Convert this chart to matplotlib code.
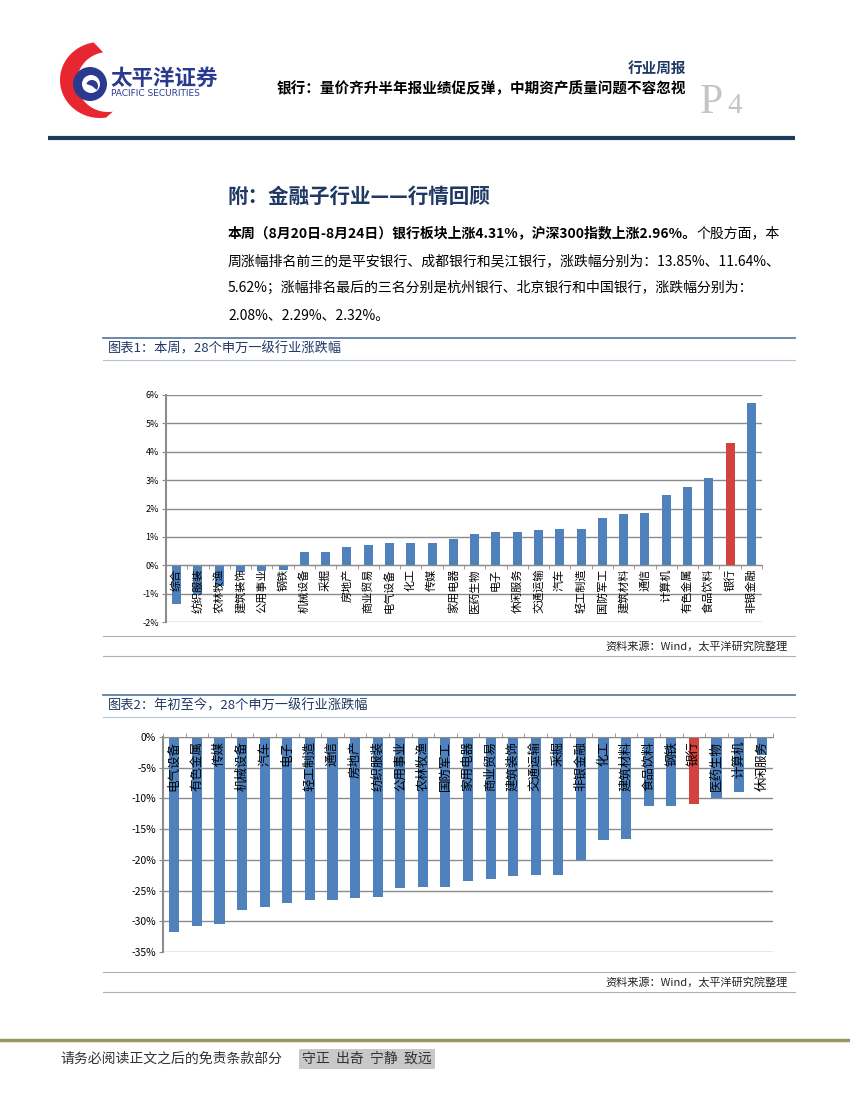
import numpy as np
import matplotlib
matplotlib.use("Agg")
import matplotlib.pyplot as plt
from matplotlib import patches

plt.rcParams['font.family'] = ['Noto Sans CJK SC', 'DejaVu Sans']
plt.rcParams['axes.unicode_minus'] = False

# 图表1：本周涨跌幅 (%)
ind1 = ['综合', '纺织服装', '农林牧渔', '建筑装饰', '公用事业', '钢铁', '机械设备', '采掘',
        '房地产', '商业贸易', '电气设备', '化工', '传媒', '家用电器', '医药生物', '电子',
        '休闲服务', '交通运输', '汽车', '轻工制造', '国防军工', '建筑材料', '通信', '计算机',
        '有色金属', '食品饮料', '银行', '非银金融']
chg1 = [-1.35, -1.03, -0.72, -0.25, -0.20, -0.15, 0.47, 0.47, 0.64, 0.71, 0.78, 0.78, 0.78,
        0.92, 1.09, 1.16, 1.16, 1.24, 1.27, 1.27, 1.66, 1.80, 1.84, 2.47, 2.75, 3.06, 4.31, 5.71]
yt1 = [-2, -1, 0, 1, 2, 3, 4, 5, 6]

# 图表2：年初至今涨跌幅 (%)
ind2 = ['电气设备', '有色金属', '传媒', '机械设备', '汽车', '电子', '轻工制造', '通信', '房地产',
        '纺织服装', '公用事业', '农林牧渔', '国防军工', '家用电器', '商业贸易', '建筑装饰',
        '交通运输', '采掘', '非银金融', '化工', '建筑材料', '食品饮料', '钢铁', '银行',
        '医药生物', '计算机', '休闲服务']
chg2 = [-31.8, -30.8, -30.5, -28.2, -27.6, -27.1, -26.6, -26.6, -26.2, -26.0, -24.5, -24.4,
        -24.4, -23.4, -23.1, -22.6, -22.5, -22.5, -20.1, -16.7, -16.6, -11.2, -11.2, -10.9,
        -10.0, -8.9, -2.9]
yt2 = [-35, -30, -25, -20, -15, -10, -5, 0]

BLUE = '#4f81bd'
RED = '#d2423f'
GRID = '#8c8c8c'
NAVY = '#1f3864'
W, H = 850, 1100

fig = plt.figure(figsize=(8.5, 11), dpi=100)
bg = fig.add_axes([0, 0, 1, 1])
bg.set_xlim(0, W)
bg.set_ylim(H, 0)
bg.axis('off')

# logo
t = np.linspace(np.pi * 0.55, np.pi * 1.55, 60)
outer = np.c_[100 + 40 * np.cos(t), 80 - 38 * np.sin(t)]
inner = np.c_[108 + 31 * np.cos(t[::-1]), 82 - 30 * np.sin(t[::-1])]
bg.add_patch(patches.Polygon(np.vstack([outer, inner]), closed=True, color='#e8262f', lw=0))
bg.add_patch(patches.Circle((90, 84), 17, color='#2a3b8f', lw=0))
bg.add_patch(patches.Circle((91, 84), 9, color='white', lw=0))
bg.add_patch(patches.Wedge((92, 86), 6, 200, 40, color='#2a3b8f', lw=0))
bg.text(110, 78, '太平洋证券', fontsize=15.5, fontweight='bold', color='#2a3b8f', va='center')
bg.text(111, 94, 'PACIFIC SECURITIES', fontsize=6.5, color='#2a3b8f', va='center',
        family='DejaVu Sans')

# header
bg.text(686, 68, '行业周报', fontsize=10.5, fontweight='bold', color=NAVY, ha='right', va='center')
bg.text(686, 88, '银行：量价齐升半年报业绩促反弹，中期资产质量问题不容忽视', fontsize=10.5,
        fontweight='bold', color='black', ha='right', va='center')
bg.text(700, 113, 'P', fontsize=30, color='#c4c4c4', family='Liberation Serif', va='baseline')
bg.text(727, 113, '4', fontsize=21, color='#c4c4c4', family='Liberation Serif', va='baseline')
bg.plot([48, 795], [138, 138], color='#1f3a5a', lw=3, solid_capstyle='butt')

# section title and paragraph
bg.text(228, 196, '附：金融子行业——行情回顾', fontsize=14.8, fontweight='bold', color=NAVY, va='center')
b = bg.text(228, 233, '本周（8月20日-8月24日）银行板块上涨4.31%，沪深300指数上涨2.96%。',
            fontsize=10, fontweight='bold', color='black', va='center')
renderer = fig.canvas.get_renderer()
x_end = b.get_window_extent(renderer).x1
bg.text(x_end, 233, '个股方面，本', fontsize=10, color='black', va='center')
bg.text(228, 261, '周涨幅排名前三的是平安银行、成都银行和吴江银行，涨跌幅分别为：13.85%、11.64%、',
        fontsize=10, color='black', va='center')
bg.text(228, 288, '5.62%；涨幅排名最后的三名分别是杭州银行、北京银行和中国银行，涨跌幅分别为：',
        fontsize=10, color='black', va='center')
bg.text(228, 316, '2.08%、2.29%、2.32%。', fontsize=10, color='black', va='center')

# chart frames
for top, bot, cap in [(338, 636, '图表1：本周，28个申万一级行业涨跌幅'),
                      (695, 972, '图表2：年初至今，28个申万一级行业涨跌幅')]:
    bg.plot([103, 795], [top, top], color='#5f7f9f', lw=1.3)
    bg.plot([103, 795], [top + 22, top + 22], color='#b4c4d4', lw=0.8)
    bg.text(108, top + 11, cap, fontsize=9.5, color=NAVY, va='center')
    bg.plot([103, 795], [bot, bot], color='#b0b0b0', lw=0.8)
    bg.text(788, bot + 10, '资料来源：Wind，太平洋研究院整理', fontsize=8, color='#222222',
            ha='right', va='center')
    bg.plot([103, 795], [bot + 20, bot + 20], color='#b0b0b0', lw=0.8)

# footer
bg.plot([0, W], [1040, 1040], color='#9a9662', lw=2.5)
bg.text(60, 1059, '请务必阅读正文之后的免责条款部分', fontsize=10, color='#333333', va='center')
bg.text(302, 1059, '守正  出奇  宁静  致远', fontsize=10, color='#333333', va='center',
        bbox=dict(facecolor='#c8c8c8', edgecolor='none', pad=2))


def box(x0, y0, x1, y1):
    return [x0 / W, 1 - y1 / H, (x1 - x0) / W, (y1 - y0) / H]


# chart 1
ax1 = fig.add_axes(box(166, 395, 762, 622))
x1 = np.arange(len(ind1))
col1 = [RED if n == '银行' else BLUE for n in ind1]
ax1.bar(x1, chg1, width=0.42, color=col1, zorder=2)
ax1.set_xlim(-0.5, len(ind1) - 0.5)
ax1.set_ylim(-2, 6)
ax1.set_yticks(yt1)
ax1.set_yticklabels([f'{v}%' for v in yt1], fontsize=6.5)
ax1.yaxis.grid(True, color=GRID, lw=1)
ax1.set_axisbelow(True)
for s in ['top', 'right']:
    ax1.spines[s].set_visible(False)
ax1.spines['left'].set_color(GRID)
ax1.spines['left'].set_linewidth(1.5)
ax1.spines['bottom'].set_position(('data', 0))
ax1.spines['bottom'].set_color(GRID)
ax1.set_xticks([])
ax1.set_xticks(np.arange(len(ind1) + 1) - 0.5, minor=True)
ax1.tick_params(axis='x', which='minor', length=3, color=GRID)
ax1.tick_params(axis='y', length=3, color=GRID, pad=2)
for i, name in enumerate(ind1):
    ax1.text(i, -0.12, name, rotation=90, ha='center', va='top', fontsize=8, zorder=4)

# chart 2
ax2 = fig.add_axes(box(163, 737, 773, 952))
x2 = np.arange(len(ind2))
col2 = [RED if n == '银行' else BLUE for n in ind2]
ax2.bar(x2, chg2, width=0.45, color=col2, zorder=2)
ax2.set_xlim(-0.5, len(ind2) - 0.5)
ax2.set_ylim(-35, 0)
ax2.set_yticks(yt2)
ax2.set_yticklabels([f'{v}%' for v in yt2], fontsize=7.5)
ax2.yaxis.grid(True, color=GRID, lw=1)
ax2.set_axisbelow(True)
for s in ['bottom', 'right']:
    ax2.spines[s].set_visible(False)
ax2.spines['left'].set_color(GRID)
ax2.spines['left'].set_linewidth(1.5)
ax2.spines['top'].set_color(GRID)
ax2.xaxis.tick_top()
ax2.set_xticks([])
ax2.set_xticks(np.arange(len(ind2) + 1) - 0.5, minor=True)
ax2.tick_params(axis='x', which='minor', length=3, color=GRID, top=True, bottom=False)
ax2.tick_params(axis='y', length=3, color=GRID, pad=2)
for i, name in enumerate(ind2):
    ax2.text(i, -0.6, name, rotation=90, ha='center', va='top', fontsize=9, zorder=4)

fig.savefig('out.png', dpi=100)
